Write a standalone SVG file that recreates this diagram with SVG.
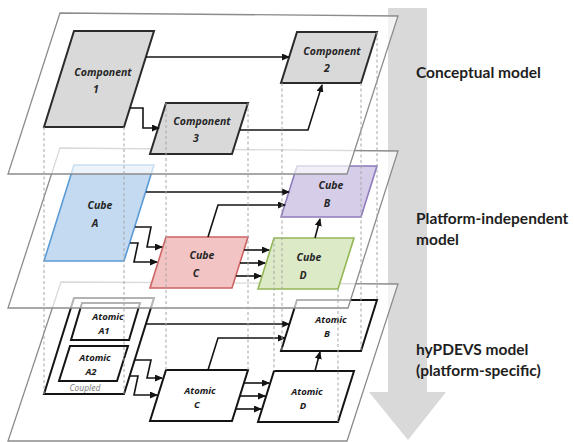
<svg xmlns="http://www.w3.org/2000/svg" width="574" height="442" viewBox="0 0 574 442">
  <defs>
    <marker id="arrow" markerWidth="8" markerHeight="7" refX="7" refY="3.5" orient="auto" markerUnits="userSpaceOnUse">
      <path d="M0,0 L8,3.5 L0,7 Z" fill="#141414"/>
    </marker>
    <style>
      .plane{fill:#fff;fill-opacity:0.68;stroke:#8c8c8c;stroke-width:1.3}
      .comp{fill:#d9d9d9;stroke:#2b2b2b;stroke-width:2}
      .atomic{fill:#fff;stroke:#141414;stroke-width:2}
      .cubeA{fill:#c3daf1;stroke:#5b9bd5;stroke-width:1.6}
      .cubeB{fill:#d6cde8;stroke:#8f7bbb;stroke-width:1.6}
      .cubeC{fill:#f3c4c4;stroke:#cd6363;stroke-width:1.6}
      .cubeD{fill:#dceac8;stroke:#93b755;stroke-width:1.6}
      .edge{fill:none;stroke:#141414;stroke-width:1.6;marker-end:url(#arrow)}
      .lbl{font-family:"Noto Sans","Open Sans",sans-serif;font-weight:bold;font-style:italic;font-size:10.5px;fill:#262626;text-anchor:middle}
      .lbl-s{font-family:"Noto Sans","Open Sans",sans-serif;font-weight:bold;font-style:italic;font-size:9.5px;fill:#1a1a1a;text-anchor:middle}
      .small{font-family:"Noto Sans","Open Sans",sans-serif;font-style:italic;font-size:8.5px;fill:#7f7f7f;text-anchor:middle}
      .guide{stroke:#a6a6a6;stroke-width:1;stroke-dasharray:3 2.5}
      .side{font-family:Lato,"Liberation Sans",sans-serif;font-weight:bold;font-size:15.5px;fill:#1e1e1e}
    </style>
  </defs>

  <!-- downward refinement arrow behind the layers -->
  <polygon id="flow-arrow" points="388,8 427,8 427,392 446,392 408,440 369,392 388,392" fill="#d9d9d9"/>

  <!-- bottom layer: hyPDEVS model -->
  <g id="layer-hypdevs">
    <polygon class="plane" points="61,282 398,284 347,441 8,441"/>
    <g id="coupled">
      <polygon class="atomic" points="74,298 154,298 124,394 44,394"/>
      <text class="small" x="85" y="391">Coupled</text>
    </g>
    <g id="atomic-a1">
      <polygon class="atomic" points="82,303 140,303 129,340 71,340"/>
      <text class="lbl-s" x="108" y="320">Atomic</text>
      <text class="lbl-s" x="104" y="334">A1</text>
    </g>
    <g id="atomic-a2">
      <polygon class="atomic" points="70,346 128,346 117,381 59,381"/>
      <text class="lbl-s" x="95" y="361">Atomic</text>
      <text class="lbl-s" x="91" y="375">A2</text>
    </g>
    <g id="atomic-b">
      <polygon class="atomic" points="297,300 377,300 361,351 281,351"/>
      <text class="lbl-s" x="331" y="323">Atomic</text>
      <text class="lbl-s" x="327" y="337">B</text>
    </g>
    <g id="atomic-c">
      <polygon class="atomic" points="166,370 248,370 232,421 150,421"/>
      <text class="lbl-s" x="200" y="394">Atomic</text>
      <text class="lbl-s" x="197" y="408">C</text>
    </g>
    <g id="atomic-d">
      <polygon class="atomic" points="274,371 354,371 338,422 258,422"/>
      <text class="lbl-s" x="307" y="395">Atomic</text>
      <text class="lbl-s" x="303" y="409">D</text>
    </g>
    <g id="connectors-hypdevs">
      <path class="edge" d="M146,324 H289"/>
      <path class="edge" d="M208,370 L218,338 H285"/>
      <path class="edge" d="M135,360 H151 L147,378 H162"/>
      <path class="edge" d="M130,376 H138 L134,395 H157"/>
      <path class="edge" d="M244,383 H269"/>
      <path class="edge" d="M240,396 H265"/>
      <path class="edge" d="M236,409 H261"/>
      <path class="edge" d="M315,371 L320,352"/>
    </g>
  </g>

  <!-- middle layer: platform-independent model -->
  <g id="layer-pim">
    <polygon class="plane" points="60,148 398,151 348,308 8,308"/>
    <g id="cube-a">
      <polygon class="cubeA" points="74,165 154,165 124,261 44,261"/>
      <text class="lbl" x="100" y="209">Cube</text>
      <text class="lbl" x="95" y="227">A</text>
    </g>
    <g id="cube-b">
      <polygon class="cubeB" points="297,166 377,166 361,217 281,217"/>
      <text class="lbl" x="331" y="189">Cube</text>
      <text class="lbl" x="327" y="207">B</text>
    </g>
    <g id="cube-c">
      <polygon class="cubeC" points="166,237 248,237 232,288 150,288"/>
      <text class="lbl" x="202" y="259">Cube</text>
      <text class="lbl" x="196" y="277">C</text>
    </g>
    <g id="cube-d">
      <polygon class="cubeD" points="274,238 354,238 338,289 258,289"/>
      <text class="lbl" x="309" y="261">Cube</text>
      <text class="lbl" x="303" y="279">D</text>
    </g>
    <g id="connectors-pim">
      <path class="edge" d="M146,192 H289"/>
      <path class="edge" d="M208,237 L218,205 H285"/>
      <path class="edge" d="M135,227 H151 L147,247 H162"/>
      <path class="edge" d="M130,243 H138 L134,262 H157"/>
      <path class="edge" d="M244,250 H269"/>
      <path class="edge" d="M240,263 H265"/>
      <path class="edge" d="M236,276 H261"/>
      <path class="edge" d="M315,238 L320,219"/>
    </g>
  </g>

  <!-- top layer: conceptual model -->
  <g id="layer-conceptual">
    <polygon class="plane" points="60,13 398,16 347,174 8,174"/>
    <g id="component-1">
      <polygon class="comp" points="74,31 154,31 124,127 44,127"/>
      <text class="lbl" x="103" y="76">Component</text>
      <text class="lbl" x="96" y="93">1</text>
    </g>
    <g id="component-2">
      <polygon class="comp" points="297,32 377,32 361,83 281,83"/>
      <text class="lbl" x="332" y="55">Component</text>
      <text class="lbl" x="327" y="72">2</text>
    </g>
    <g id="component-3">
      <polygon class="comp" points="166,103 248,103 232,154 150,154"/>
      <text class="lbl" x="202" y="125">Component</text>
      <text class="lbl" x="196" y="142">3</text>
    </g>
    <g id="connectors-conceptual">
      <path class="edge" d="M146,57 H289"/>
      <path class="edge" d="M130,108 H143 V128 H159"/>
      <path class="edge" d="M240,130 H308 L322,85"/>
    </g>
  </g>

  <!-- vertical trace lines between corresponding elements -->
  <g id="trace-lines">
    <line class="guide" x1="44" y1="127" x2="44" y2="394"/>
    <line class="guide" x1="124" y1="127" x2="124" y2="394"/>
    <line class="guide" x1="166" y1="103" x2="166" y2="370"/>
    <line class="guide" x1="248" y1="103" x2="248" y2="370"/>
    <line class="guide" x1="282" y1="83" x2="282" y2="351"/>
    <line class="guide" x1="361" y1="83" x2="361" y2="351"/>
    <line class="guide" x1="377" y1="32" x2="377" y2="300"/>
    <line class="guide" x1="274" y1="238" x2="274" y2="371"/>
    <line class="guide" x1="338" y1="289" x2="338" y2="422"/>
  </g>

  <!-- layer names -->
  <g id="layer-names">
    <text class="side" x="416" y="78">Conceptual model</text>
    <text class="side" x="416" y="224">Platform-independent</text>
    <text class="side" x="416" y="245">model</text>
    <text class="side" x="416" y="355">hyPDEVS model</text>
    <text class="side" x="416" y="376">(platform-specific)</text>
  </g>
</svg>
